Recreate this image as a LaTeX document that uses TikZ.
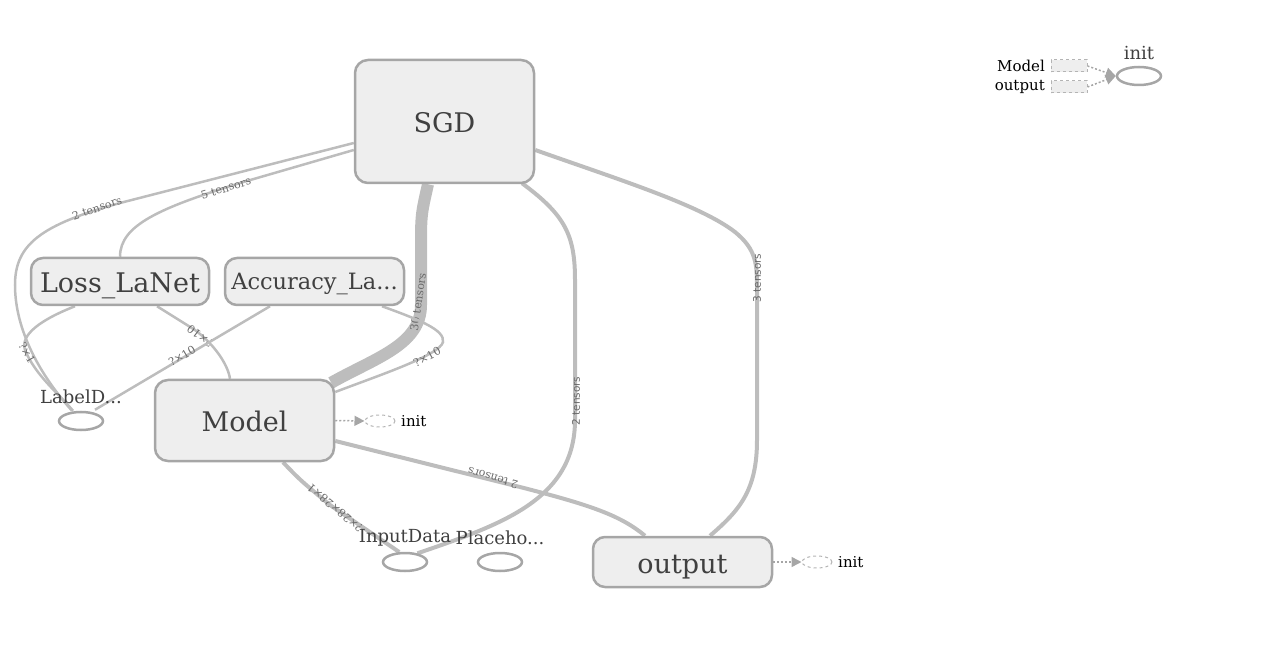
\documentclass[tikz,border=0pt]{standalone}
\usepackage{fontspec}
\setmainfont{DejaVu Serif}
\newfontfamily\edgesans{DejaVu Sans}
\usetikzlibrary{shapes.geometric,arrows.meta,calc}
\pgfdeclarelayer{background}
\pgfsetlayers{background,main}
\definecolor{nodefill}{HTML}{EEEEEE}
\definecolor{nodeline}{HTML}{A6A6A6}
\definecolor{edgec}{HTML}{BDBDBD}
\definecolor{txt}{HTML}{404040}
\definecolor{lbl}{HTML}{6A6A6A}
\definecolor{dashc}{HTML}{B4B4B4}
\begin{document}
\begin{tikzpicture}[x=1pt,y=-1pt,
  opnode/.style={draw=nodeline, fill=nodefill, line width=2.5pt, rounded corners=13pt,
     inner sep=0pt, text=txt, font=\fontsize{27}{30}\selectfont,
     text height=22pt, text depth=0pt},
  ellnode/.style={ellipse, draw=nodeline, line width=2.5pt, minimum width=44pt,
     minimum height=18pt, inner sep=0pt, fill=white},
  initnode/.style={ellipse, draw=dashc, dashed, line width=1pt, minimum width=30pt,
     minimum height=12pt, inner sep=0pt, fill=white},
  ntext/.style={text=txt, inner sep=0pt, font=\fontsize{18}{20}\selectfont},
  smalltext/.style={text=black, inner sep=0pt, font=\fontsize{15}{18}\selectfont},
  conn/.style={draw=edgec, line width=2.5pt},
  connthick/.style={draw=edgec, line width=4pt},
  elabel/.style={text=lbl, inner sep=0pt, font=\fontsize{11}{12}\selectfont},
  elabelsans/.style={text=lbl, inner sep=0pt, font=\edgesans\fontsize{10.5}{12}\selectfont},
  ctrl/.style={draw=nodeline, line width=1.5pt, dash pattern=on 2pt off 2pt,
     -{Triangle[length=10pt,width=10pt]}},
  legbox/.style={draw=dashc, fill=nodefill, dashed, line width=1pt, minimum width=36pt,
     minimum height=12pt, inner sep=0pt}
]
\useasboundingbox (0,0) rectangle (1267,668);

% operation nodes
\node[opnode, minimum width=179pt, minimum height=123pt] (sgd) at (444.5,121.5) {SGD};
\node[opnode, minimum width=178pt, minimum height=47pt, rounded corners=12pt] (loss) at (120,281.5) {Loss\_LaNet};
\node[opnode, minimum width=179pt, minimum height=47pt, rounded corners=12pt,
      font=\fontsize{22.5}{24}\selectfont, text height=17pt] (acc) at (314.5,281.5) {Accuracy\_La...};
\node[opnode, minimum width=179pt, minimum height=81pt] (model) at (244.5,420.5) {Model};
\node[opnode, minimum width=179pt, minimum height=50pt, rounded corners=12pt] (out) at (682.5,562) {output};

% placeholder / variable ellipses
\node[ellnode] (labeld) at (81,421) {};
\node[ntext] (labeldt) at (81,397) {LabelD...};
\node[ellnode] (inp) at (405,562) {};
\node[ntext] (inpt) at (405,538) {InputData};
\node[ellnode] (plh) at (500,562) {};
\node[ntext] (plht) at (500,538) {Placeho...};

% init nodes
\node[initnode] (minit) at (380,421) {};
\node[smalltext, anchor=west] (minitt) at (401,421) {init};
\node[initnode] (oinit) at (817,562) {};
\node[smalltext, anchor=west] (oinitt) at (838,562) {init};

% legend
\node[legbox] (lmodel) at (1069,66) {};
\node[legbox] (lout) at (1069,87) {};
\node[smalltext, anchor=east] (lmodelt) at (1045,66) {Model};
\node[smalltext, anchor=east] (loutt) at (1045,87) {output};
\node[ellnode, fill=none] (linit) at (1139,76) {};
\node[text=txt, inner sep=0pt, font=\fontsize{18}{20}\selectfont] (linitt) at (1139,53) {init};

\begin{pgfonlayer}{background}
% SGD -> LabelD
\draw[conn] ([yshift=-21.5pt]sgd.west) -- (120,203)
   .. controls (40,225) and (15,245) .. (15,285)
   .. controls (15,330) and (40,375) .. ([xshift=-9pt]labeld.north);
\node[elabel, rotate=19] at (97,208) {2 tensors};
% SGD -> Loss
\draw[conn] ([yshift=-28.5pt]sgd.west) -- (240,183)
   .. controls (160,208) and (120,225) .. (loss.north);
\node[elabel, rotate=17] at (226,188) {5 tensors};
% SGD -> Model (thick)
\draw[draw=edgec, line width=12pt] ([xshift=-16.5pt]sgd.south)
   .. controls (421,215) .. (421,250) -- (421,305)
   .. controls (421,345) and (375,358) .. ([xshift=-4pt,yshift=-4pt]model.north east);
\node[elabel, rotate=82] at (418,302) {30 tensors};
% SGD -> InputData
\draw[connthick] ([xshift=77.5pt,yshift=1pt]sgd.south)
   .. controls (565,215) and (575,235) .. (575,280) -- (575,420)
   .. controls (575,500) and (500,525) .. (inp.35);
\node[elabelsans, rotate=90] at (576,401) {2 tensors};
% SGD -> output
\draw[connthick] ([yshift=-28.5pt]sgd.east)
   .. controls (620,180) and (700,205) .. (735,232)
   .. controls (757,250) and (757,265) .. (757,290) -- (757,440)
   .. controls (757,490) and (740,510) .. ([xshift=27.5pt]out.north);
\node[elabelsans, rotate=90] at (757,278) {3 tensors};
% Loss -> LabelD
\draw[conn] ([xshift=-45pt]loss.south)
   .. controls (40,320) and (20,335) .. (25,350)
   .. controls (35,375) and (60,395) .. ([xshift=-8pt]labeld.north);
\node[elabel, rotate=-60] at (27,353) {?×1};
% Loss -> Model
\draw[conn] ([xshift=37pt]loss.south) -- (195,330)
   .. controls (215,345) and (228,365) .. ([xshift=-14.5pt]model.north);
\node[elabel, rotate=143] at (200,336) {?×10};
% Accuracy -> LabelD
\draw[conn] ([xshift=-44.5pt]acc.south) -- ([xshift=14pt,yshift=1pt]labeld.north);
\node[elabel, rotate=31] at (182,356) {?×10};
% Accuracy -> Model
\draw[conn] ([xshift=67.5pt]acc.south)
   .. controls (420,320) and (445,330) .. (443,342)
   .. controls (440,355) and (380,375) .. ([yshift=28.5pt]model.east);
\node[elabel, rotate=28] at (427,357) {?×10};
% Model -> output
\draw[connthick] ([yshift=-20.5pt]model.east) -- (520,487)
   .. controls (590,505) and (620,515) .. ([xshift=-37.5pt]out.north);
\node[elabel, rotate=164] at (493,478) {2 tensors};
% Model -> InputData
\draw[connthick] ([xshift=38.5pt]model.south)
   .. controls (300,480) .. (330,505) -- (inp.120);
\node[elabel, rotate=140] at (335,508) {?×28×28×1};
\end{pgfonlayer}

% control dependency arrows
\draw[ctrl] (model.east) -- (minit.west);
\draw[ctrl] (out.east) -- (oinit.west);
\draw[ctrl] (lmodel.east) -- (linit.west);
\draw[ctrl] (lout.east) -- (linit.west);
\end{tikzpicture}
\end{document}
